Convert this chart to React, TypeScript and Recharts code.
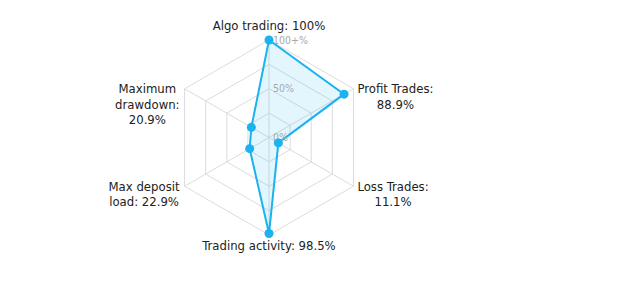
import React from 'react';
import {
  RadarChart,
  Radar,
  PolarGrid,
  PolarAngleAxis,
  PolarRadiusAxis,
} from 'recharts';

// chart values
const axisNames = [
  'Algo trading',
  'Profit Trades',
  'Loss Trades',
  'Trading activity',
  'Max deposit load',
  'Maximum drawdown',
];
const axisValues = [100, 88.9, 11.1, 98.5, 22.9, 20.9];

// how each axis label is wrapped on screen
const labelLines = [
  ['Algo trading: 100%'],
  ['Profit Trades:', '88.9%'],
  ['Loss Trades:', '11.1%'],
  ['Trading activity: 98.5%'],
  ['Max deposit', 'load: 22.9%'],
  ['Maximum', 'drawdown:', '20.9%'],
];

const radiusTickLabels: Record<number, string> = { 0: '0%', 50: '50%', 100: '100+%' };

const data = axisNames.map((name, i) => ({ name, value: axisValues[i] }));

const WIDTH = 609;
const HEIGHT = 271;
const CX = 261;
const CY = 129.5;
const R = 97.5;
const FONT = '"DejaVu Sans Condensed", "DejaVu Sans", sans-serif';
const FONT_SIZE = 13;
const LINE_H = 15.5;
const BLUE = '#1ab2ef';

let measureCtx: CanvasRenderingContext2D | null = null;
const textWidth = (s: string) => {
  if (!measureCtx) {
    measureCtx = document.createElement('canvas').getContext('2d');
  }
  if (!measureCtx) return s.length * 7;
  measureCtx.font = `${FONT_SIZE}px ${FONT}`;
  return measureCtx.measureText(s).width;
};

const AngleTick = (props: any) => {
  const { payload, index } = props;
  const lines = labelLines[index] || [String(payload.value)];
  const rad = (payload.coordinate * Math.PI) / 180;
  const vx = CX + R * Math.cos(rad);
  const vy = CY - R * Math.sin(rad);
  const cos = Math.cos(rad);

  let cxText = vx;
  let firstY = vy;
  if (Math.abs(cos) < 0.1) {
    firstY = Math.sin(rad) > 0 ? vy - 15 : vy + 10;
  } else {
    const maxW = Math.max(...lines.map(textWidth));
    cxText = cos > 0 ? vx + 4 + maxW / 2 : vx - 5 - maxW / 2;
  }

  // one text element, one tspan per line
  return (
    <text
      x={cxText}
      y={firstY + 4.5}
      textAnchor="middle"
      fill="#222"
      fontSize={FONT_SIZE}
      fontFamily={FONT}
    >
      {lines.map((line: string, i: number) => (
        <tspan key={i} x={cxText} dy={i === 0 ? 0 : LINE_H}>
          {line}
        </tspan>
      ))}
    </text>
  );
};

const RadiusTick = (props: any) => {
  const { x, y, payload } = props;
  const label = radiusTickLabels[payload.value];
  if (!label) return null;
  return (
    <text
      x={x + 4}
      y={y + 3.5}
      fill="#a8a8a8"
      fontSize={10.5}
      fontFamily={FONT}
    >
      {label}
    </text>
  );
};

export default function App() {
  return (
    <RadarChart
      width={WIDTH}
      height={HEIGHT}
      data={data}
      cx={CX}
      cy={CY}
      outerRadius={R}
      margin={{ top: 0, right: 0, bottom: 0, left: 0 }}
    >
      <PolarGrid stroke="#dcdcdc" />
      <PolarAngleAxis dataKey="name" tick={<AngleTick />} tickLine={false} axisLine={false} />
      <PolarRadiusAxis
        angle={90}
        domain={[0, 100]}
        tickCount={5}
        tick={<RadiusTick />}
        tickLine={false}
        axisLine={false}
      />
      <Radar
        dataKey="value"
        stroke={BLUE}
        strokeWidth={2}
        fill={BLUE}
        fillOpacity={0.12}
        dot={{ r: 4.5, fill: BLUE, stroke: BLUE, strokeWidth: 0, fillOpacity: 1 }}
        isAnimationActive={false}
      />
    </RadarChart>
  );
}
